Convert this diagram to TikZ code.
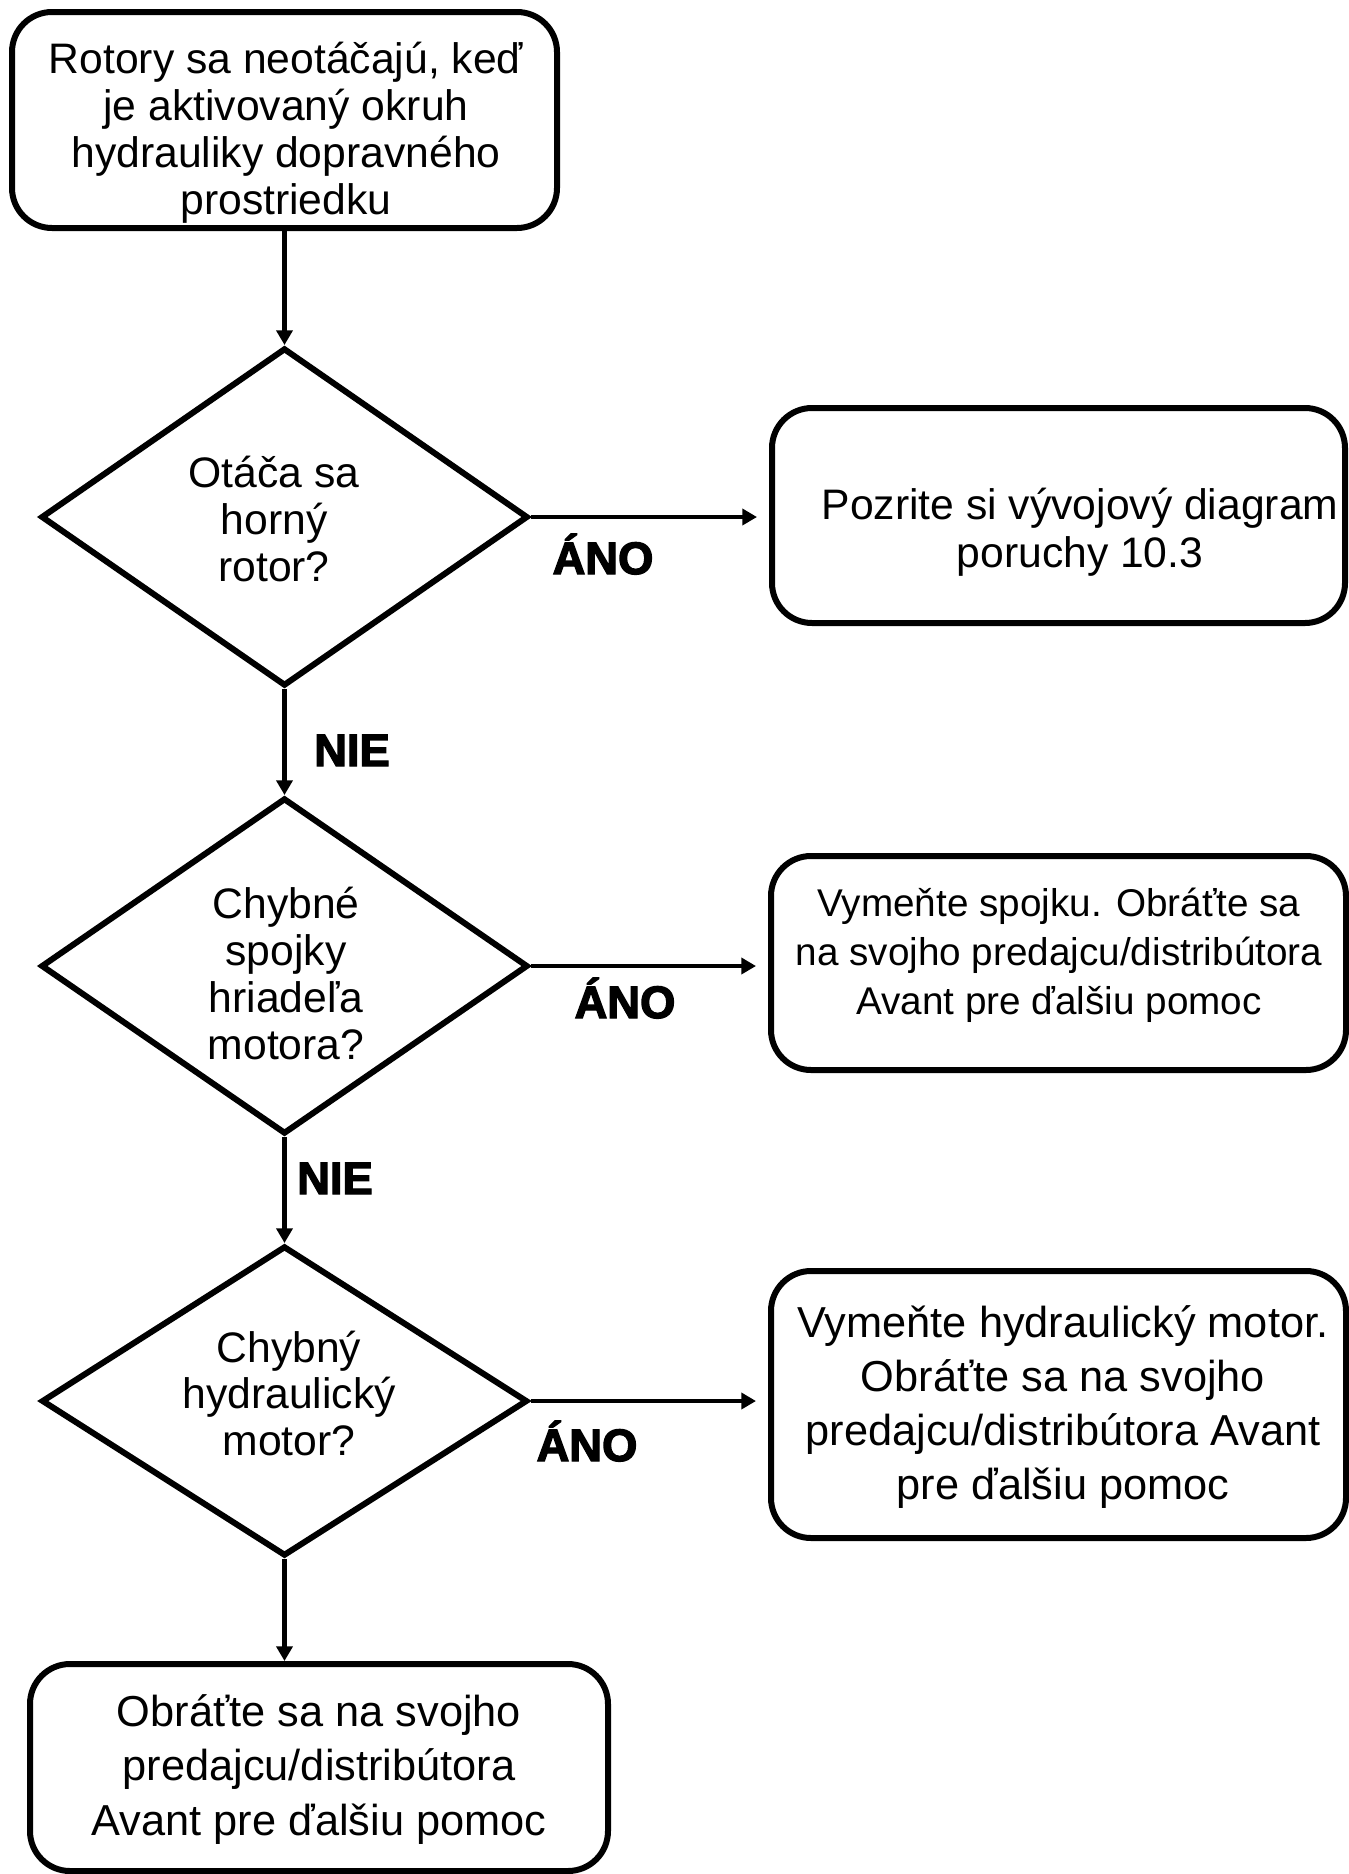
\documentclass[tikz,border=0pt]{standalone}
\usepackage{fontspec}
\setmainfont{Liberation Sans}
\newfontfamily\heavyfont[FakeBold=3]{Liberation Sans Bold}
\usetikzlibrary{shapes.geometric,arrows.meta}
\newcommand{\mlines}[1]{\begin{tabular}[t]{@{}c@{}}#1\end{tabular}}
\begin{document}
\begin{tikzpicture}[x=0.75pt,y=-0.75pt,
  box/.style={draw, line width=4.5pt, rounded corners=30pt, inner sep=0pt},
  dia/.style={draw, diamond, line width=4.5pt, inner sep=0pt},
  txt/.style={anchor=base, inner sep=0pt},
  lbl/.style={anchor=base, inner sep=0pt, font=\heavyfont\fontsize{34}{40}\selectfont},
  conn/.style={line width=3.2pt, -{Triangle[length=11pt,width=12pt]}}
  ]
\path[fill=white] (0,0) rectangle (1349,1874);
\useasboundingbox (0,0) rectangle (1349,1874);

% shapes
\node[box, minimum width=408.75pt, minimum height=162pt] (start) at (284.5,120) {};
\node[dia, minimum width=365.25pt, minimum height=253.5pt] (d1) at (284.5,517) {};
\node[box, minimum width=429.75pt, minimum height=161.25pt] (box2) at (1058.5,515.5) {};
\node[dia, minimum width=365.25pt, minimum height=252pt] (d2) at (284.5,966) {};
\node[box, minimum width=431.25pt, minimum height=160.5pt] (box3) at (1058.5,963) {};
\node[dia, minimum width=364.5pt, minimum height=232.5pt] (d3) at (284.5,1401) {};
\node[box, minimum width=431.25pt, minimum height=200.25pt] (box4) at (1058.5,1404.5) {};
\node[box, minimum width=433.5pt, minimum height=155.25pt] (bottom) at (319,1767.5) {};

% texts
\node[txt, font=\fontsize{32}{35.25}\selectfont] (t0) at (286,73)
  {\mlines{Rotory sa neotáčajú, keď\\ je aktivovaný okruh\\ hydrauliky dopravného\\ prostriedku}};
\node[txt, font=\fontsize{32}{35.25}\selectfont] (t1) at (274,487)
  {\mlines{Otáča sa\\ horný\\ rotor?}};
\node[txt, font=\fontsize{32}{36}\selectfont] (t2) at (1080,519)
  {\mlines{Pozrite si vývojový diagram\\ poruchy 10.3}};
\node[txt, font=\fontsize{32}{35.25}\selectfont] (t3) at (286,918)
  {\mlines{Chybné\\ spojky\\ hriadeľa\\ motora?}};
\node[txt, font=\fontsize{29}{37.1}\selectfont] (t4) at (1059,916)
  {\mlines{Vymeňte spojku. Obráťte sa\\ na svojho predajcu/distribútora\\ Avant pre ďalšiu pomoc}};
\node[txt, font=\fontsize{32}{34.9}\selectfont] (t5) at (289,1362)
  {\mlines{Chybný\\ hydraulický\\ motor?}};
\node[txt, font=\fontsize{32.5}{40.7}\selectfont] (t6) at (1063,1337)
  {\mlines{Vymeňte hydraulický motor.\\ Obráťte sa na svojho\\ predajcu/distribútora Avant\\ pre ďalšiu pomoc}};
\node[txt, font=\fontsize{32.5}{40.9}\selectfont] (t7) at (319,1726)
  {\mlines{Obráťte sa na svojho\\ predajcu/distribútora\\ Avant pre ďalšiu pomoc}};

% labels
\node[lbl] (y1) at (603,574) {ÁNO};
\node[lbl] (y2) at (625,1018) {ÁNO};
\node[lbl] (y3) at (587,1461) {ÁNO};
\node[lbl] (n1) at (352,766) {NIE};
\node[lbl] (n2) at (335,1194) {NIE};

% connectors
\draw[conn] (start.south) -- (d1.north);
\draw[conn] (d1.south) -- (d2.north);
\draw[conn] (d2.south) -- (d3.north);
\draw[conn] (d3.south) -- (d3.south |- bottom.north);
\draw[conn, shorten >=9pt] (d1.east) -- (d1.east -| box2.west);
\draw[conn, shorten >=9pt] (d2.east) -- (d2.east -| box3.west);
\draw[conn, shorten >=9pt] (d3.east) -- (d3.east -| box4.west);
\end{tikzpicture}
\end{document}
